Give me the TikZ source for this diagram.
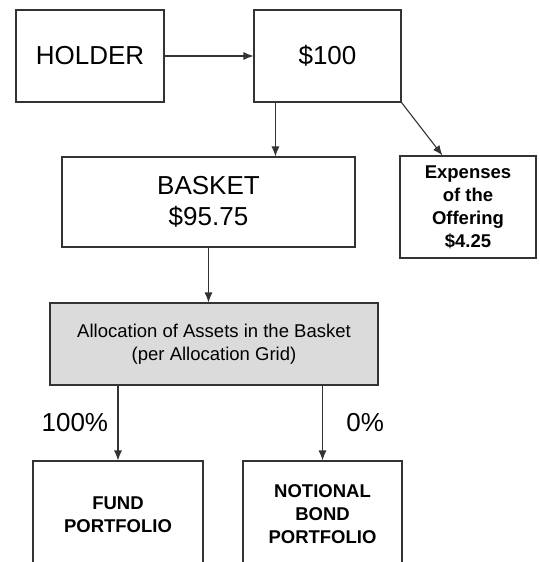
\documentclass[tikz,border=0pt]{standalone}
\usepackage{fontspec}
\setmainfont{Liberation Sans}
\usetikzlibrary{arrows.meta}

\tikzset{
    kasten/.style={rectangle, draw=black!80, line width=1.1pt, inner sep=0pt, align=center, fill=white},
    grosstext/.style={font=\fontsize{26}{31}\selectfont},
    fetttext/.style={font=\fontsize{18.5}{23}\selectfont\bfseries},
    pfeil/.style={draw=black!80, line width=1.1pt, -{Latex[length=10pt, width=8pt]}}
}

\begin{document}
\begin{tikzpicture}[x=1pt, y=-1pt]
        \clip (0,0) rectangle (540,562);
        \fill[white] (0,0) rectangle (540,562);
        \path node[kasten, grosstext, minimum width=148pt, minimum height=92pt] (holder) at (90,56) {HOLDER}
        node[kasten, grosstext, minimum width=147pt, minimum height=92pt] (betrag) at (327.5,56) {\$100}
        node[kasten, grosstext, minimum width=293pt, minimum height=90pt] (basket) at (208.5,202) {BASKET\\\$95.75}
        node[kasten, fetttext, minimum width=136pt, minimum height=102pt] (kosten) at (468,207) {Expenses\\of the\\Offering\\\$4.25}
        node[kasten, fill=black!14, font=\fontsize{18.5}{23}\selectfont, minimum width=328pt, minimum height=82pt] (verteilung) at (214,344) {Allocation of Assets in the Basket\\(per Allocation Grid)};
        \path node[kasten, fetttext, minimum width=170pt, minimum height=107pt] (fonds) at (118,514.5) {FUND\\PORTFOLIO}
        node[kasten, fetttext, minimum width=159pt, minimum height=107pt] (anleihe) at (322.5,514.5) {NOTIONAL\\BOND\\PORTFOLIO};
        \draw[pfeil] (holder) -- (betrag);
        \draw[pfeil] ([xshift=22pt]betrag.south west) -- ([xshift=22pt]betrag.south west |- basket.north);
        \draw[pfeil] (betrag.south east) -- ([xshift=43pt]kosten.north west);
        \draw[pfeil] (basket.south) -- (basket.south |- verteilung.north);
        \draw[pfeil] (fonds.north |- verteilung.south) -- node[midway, left=6pt, grosstext] {100\%} (fonds.north);
        \draw[pfeil] (anleihe.north |- verteilung.south) -- node[midway, right=20pt, grosstext] {0\%} (anleihe.north);
    \end{tikzpicture}
\end{document}
